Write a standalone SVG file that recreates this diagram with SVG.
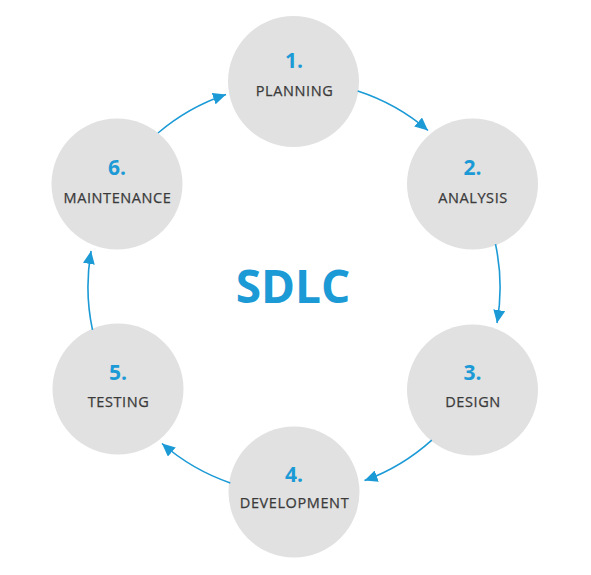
<svg xmlns="http://www.w3.org/2000/svg" width="591" height="575" viewBox="0 0 591 575">
<style>
.node circle{fill:#e1e1e1}
.num{font-family:"Open Sans","Liberation Sans",sans-serif;font-weight:700;font-size:21px;fill:#1b9ad6;text-anchor:middle}
.lbl{font-family:"Open Sans","Liberation Sans",sans-serif;font-weight:400;font-size:14.5px;fill:#3a3a3a;text-anchor:middle;letter-spacing:0.6px;stroke:#3a3a3a;stroke-width:0.25}
.title{font-family:"Open Sans","Liberation Sans",sans-serif;font-weight:700;font-size:46px;fill:#1b9ad6;text-anchor:middle}
.conn path{fill:none;stroke:#1b9ad6;stroke-width:1.6}
</style>
<defs>
<marker id="ah" markerUnits="userSpaceOnUse" markerWidth="14" markerHeight="12" refX="13" refY="6" orient="auto">
<path d="M0,0 L13,6 L0,12 z" fill="#1b9ad6"/>
</marker>
</defs>
<rect width="591" height="575" fill="#fff"/>
<g id="planning" class="node"><circle cx="293.5" cy="81.5" r="65.5"/><text class="num" x="294" y="68">1.</text><text class="lbl" x="294.5" y="96">PLANNING</text></g>
<g id="analysis" class="node"><circle cx="472.5" cy="184" r="65.5"/><text class="num" x="472.5" y="175">2.</text><text class="lbl" x="473" y="203">ANALYSIS</text></g>
<g id="design" class="node"><circle cx="472.5" cy="390" r="65.5"/><text class="num" x="472.5" y="380">3.</text><text class="lbl" x="473" y="407">DESIGN</text></g>
<g id="development" class="node"><circle cx="294" cy="492" r="65.5"/><text class="num" x="294" y="482">4.</text><text class="lbl" x="294.5" y="508">DEVELOPMENT</text></g>
<g id="testing" class="node"><circle cx="118" cy="389" r="65.5"/><text class="num" x="118" y="380">5.</text><text class="lbl" x="118.5" y="407">TESTING</text></g>
<g id="maintenance" class="node"><circle cx="117" cy="184" r="65.5"/><text class="num" x="117" y="175">6.</text><text class="lbl" x="117.5" y="203">MAINTENANCE</text></g>
<text class="title" x="293" y="303">SDLC</text>
<g id="connectors" class="conn">
<path d="M357.7,91.1 A206,206 0 0 1 428,130.5" marker-end="url(#ah)"/>
<path d="M495.5,244.2 A206,206 0 0 1 497,323" marker-end="url(#ah)"/>
<path d="M431.8,440.1 A206,206 0 0 1 364.5,480.6" marker-end="url(#ah)"/>
<path d="M230.3,482.9 A206,206 0 0 1 162,443.5" marker-end="url(#ah)"/>
<path d="M92.5,329.8 A206,206 0 0 1 91.1,251" marker-end="url(#ah)"/>
<path d="M158,133 A206,206 0 0 1 226,94.5" marker-end="url(#ah)"/>
</g>
</svg>
